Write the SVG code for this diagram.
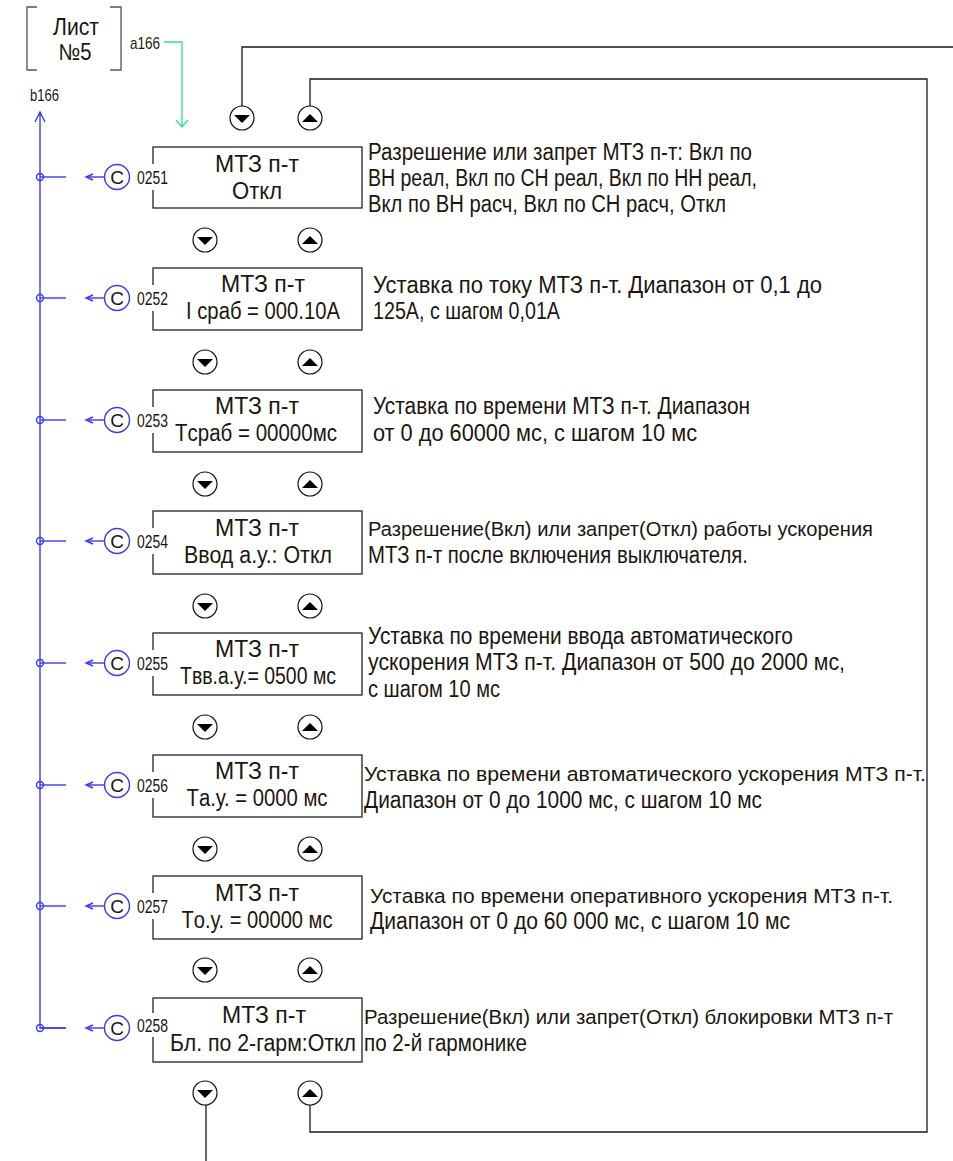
<svg xmlns="http://www.w3.org/2000/svg" xmlns:xlink="http://www.w3.org/1999/xlink" width="953" height="1161" viewBox="0 0 953 1161">
<style>
text{font-family:"Liberation Sans","DejaVu Sans",sans-serif;fill:#1c1610}
.box{fill:#fff;stroke:#222;stroke-width:1.3}
.bt{font-size:23.5px;text-anchor:middle}
.ds{font-size:23px}
.dl{font-size:20.5px}
.lbl{font-size:19px}
.wire{fill:none;stroke:#1a1a1a;stroke-width:1.3}
.gray{fill:none;stroke:#555;stroke-width:1.3}
.blue{fill:none;stroke:#3a3af0;stroke-width:1.4}
.green{fill:none;stroke:#2de57c;stroke-width:1.3}
.nav{fill:#fff;stroke:#111;stroke-width:1.2}
.cc{fill:#fff;stroke:#3a3af0;stroke-width:1.4}
</style>
<defs>
<g id="down"><circle class="nav" r="12"/><polygon points="-8,-3 8,-3 0,5" fill="#000"/></g>
<g id="up"><circle class="nav" r="12"/><polygon points="-8,4 8,4 0,-4" fill="#000"/></g>
<g id="cnode"><line class="blue" x1="0" y1="0" x2="26" y2="0"/><circle cx="0" cy="0" r="3.5" class="blue" fill="#fff"/><line class="blue" x1="47" y1="0" x2="64" y2="0"/><path class="blue" d="M53,-3 L46,0 L53,3"/><circle class="cc" cx="77" cy="0" r="12.5"/><text x="77" y="7" font-size="19" text-anchor="middle" fill="#000">C</text></g>
</defs>

<g id="sheet">
<path class="gray" d="M37,7 H27 V70 H37 M110,7 H121 V70 H110"/>
<text x="76" y="35" font-size="23" text-anchor="middle" textLength="46" lengthAdjust="spacingAndGlyphs">Лист</text>
<text x="75" y="60" font-size="23" text-anchor="middle" textLength="33" lengthAdjust="spacingAndGlyphs">№5</text>
<text x="130" y="49" font-size="17" textLength="30" lengthAdjust="spacingAndGlyphs">a166</text>
<text x="30" y="101" font-size="17" textLength="29" lengthAdjust="spacingAndGlyphs">b166</text>
</g>

<g id="connectors">
<path class="green" d="M164,42 H182 V127 M176,120 L182,127 L188,120"/>
<path class="blue" d="M40,112 V1028 H66 M35,122 L40,112 L45,122"/>
<path class="wire" d="M242,106 V47 H953"/>
<path class="wire" d="M310,106 V79 H927 V1132 H310 V1105"/>
<path class="wire" d="M206,1105 V1161"/>
</g>

<g id="nav">
<use xlink:href="#down" x="242" y="118"/><use xlink:href="#up" x="310" y="118"/>
<use xlink:href="#down" x="205" y="240"/><use xlink:href="#up" x="310" y="240"/>
<use xlink:href="#down" x="205" y="362"/><use xlink:href="#up" x="310" y="362"/>
<use xlink:href="#down" x="205" y="484"/><use xlink:href="#up" x="310" y="484"/>
<use xlink:href="#down" x="205" y="606"/><use xlink:href="#up" x="310" y="606"/>
<use xlink:href="#down" x="205" y="727"/><use xlink:href="#up" x="310" y="727"/>
<use xlink:href="#down" x="205" y="849"/><use xlink:href="#up" x="310" y="849"/>
<use xlink:href="#down" x="205" y="970"/><use xlink:href="#up" x="310" y="970"/>
<use xlink:href="#down" x="205" y="1093"/><use xlink:href="#up" x="310" y="1093"/>
</g>

<g id="node0251">
<use xlink:href="#cnode" x="40" y="177"/>
<rect class="box" x="153" y="147" width="209" height="61"/>
<rect x="150" y="164" width="8" height="26" fill="#fff"/>
<text class="lbl" x="137" y="184" textLength="31" lengthAdjust="spacingAndGlyphs">0251</text>
<text class="bt" x="257" y="172" textLength="84" lengthAdjust="spacingAndGlyphs">МТЗ п-т</text>
<text class="bt" x="257" y="199" textLength="50" lengthAdjust="spacingAndGlyphs">Откл</text>
<text class="ds" x="368" y="160" textLength="384" lengthAdjust="spacingAndGlyphs">Разрешение или запрет МТЗ п-т: Вкл по</text>
<text class="ds" x="368" y="186" textLength="389" lengthAdjust="spacingAndGlyphs">ВН реал, Вкл по СН реал, Вкл по НН реал,</text>
<text class="ds" x="368" y="212" textLength="358" lengthAdjust="spacingAndGlyphs">Вкл по ВН расч, Вкл по СН расч, Откл</text>
</g>

<g id="node0252">
<use xlink:href="#cnode" x="40" y="298"/>
<rect class="box" x="153" y="268" width="209" height="62"/>
<rect x="150" y="285" width="8" height="26" fill="#fff"/>
<text class="lbl" x="137" y="305" textLength="31" lengthAdjust="spacingAndGlyphs">0252</text>
<text class="bt" x="263" y="292" textLength="84" lengthAdjust="spacingAndGlyphs">МТЗ п-т</text>
<text class="bt" x="263" y="319" textLength="154" lengthAdjust="spacingAndGlyphs">I сраб = 000.10A</text>
<text class="ds" x="373" y="293" textLength="449" lengthAdjust="spacingAndGlyphs">Уставка по току МТЗ п-т. Диапазон от  0,1 до</text>
<text class="ds" x="373" y="319" textLength="187" lengthAdjust="spacingAndGlyphs">125А, с шагом 0,01А</text>
</g>

<g id="node0253">
<use xlink:href="#cnode" x="40" y="420"/>
<rect class="box" x="153" y="390" width="209" height="62"/>
<rect x="150" y="407" width="8" height="26" fill="#fff"/>
<text class="lbl" x="137" y="427" textLength="31" lengthAdjust="spacingAndGlyphs">0253</text>
<text class="bt" x="257" y="414" textLength="84" lengthAdjust="spacingAndGlyphs">МТЗ п-т</text>
<text class="bt" x="256" y="441" textLength="162" lengthAdjust="spacingAndGlyphs">Tсраб = 00000мс</text>
<text class="ds" x="373" y="414" textLength="377" lengthAdjust="spacingAndGlyphs">Уставка по времени МТЗ п-т. Диапазон</text>
<text class="ds" x="373" y="441" textLength="324" lengthAdjust="spacingAndGlyphs">от 0 до 60000 мс,  с шагом 10 мс</text>
</g>

<g id="node0254">
<use xlink:href="#cnode" x="40" y="541"/>
<rect class="box" x="153" y="511" width="209" height="63"/>
<rect x="150" y="528" width="8" height="26" fill="#fff"/>
<text class="lbl" x="137" y="548" textLength="31" lengthAdjust="spacingAndGlyphs">0254</text>
<text class="bt" x="257" y="536" textLength="84" lengthAdjust="spacingAndGlyphs">МТЗ п-т</text>
<text class="bt" x="258" y="563" textLength="148" lengthAdjust="spacingAndGlyphs">Ввод а.у.:  Откл</text>
<text class="dl" x="368" y="536" textLength="505" lengthAdjust="spacingAndGlyphs">Разрешение(Вкл) или запрет(Откл) работы ускорения</text>
<text class="ds" x="368" y="563" textLength="380" lengthAdjust="spacingAndGlyphs">МТЗ п-т после включения выключателя.</text>
</g>

<g id="node0255">
<use xlink:href="#cnode" x="40" y="663"/>
<rect class="box" x="153" y="633" width="209" height="62"/>
<rect x="150" y="650" width="8" height="26" fill="#fff"/>
<text class="lbl" x="137" y="670" textLength="31" lengthAdjust="spacingAndGlyphs">0255</text>
<text class="bt" x="257" y="657" textLength="84" lengthAdjust="spacingAndGlyphs">МТЗ п-т</text>
<text class="bt" x="258" y="684" textLength="156" lengthAdjust="spacingAndGlyphs">Tвв.а.у.= 0500 мс</text>
<text class="ds" x="368" y="644" textLength="425" lengthAdjust="spacingAndGlyphs">Уставка по времени ввода автоматического</text>
<text class="ds" x="368" y="670" textLength="477" lengthAdjust="spacingAndGlyphs">ускорения МТЗ п-т. Диапазон от 500 до 2000 мс,</text>
<text class="ds" x="368" y="697" textLength="132" lengthAdjust="spacingAndGlyphs">с шагом 10 мс</text>
</g>

<g id="node0256">
<use xlink:href="#cnode" x="40" y="785"/>
<rect class="box" x="153" y="755" width="209" height="62"/>
<rect x="150" y="772" width="8" height="26" fill="#fff"/>
<text class="lbl" x="137" y="792" textLength="31" lengthAdjust="spacingAndGlyphs">0256</text>
<text class="bt" x="257" y="779" textLength="84" lengthAdjust="spacingAndGlyphs">МТЗ п-т</text>
<text class="bt" x="257" y="806" textLength="141" lengthAdjust="spacingAndGlyphs">Tа.у. = 0000 мс</text>
<text class="dl" x="364" y="781" textLength="562" lengthAdjust="spacingAndGlyphs">Уставка по времени автоматического ускорения МТЗ п-т.</text>
<text class="ds" x="364" y="808" textLength="398" lengthAdjust="spacingAndGlyphs">Диапазон от 0 до 1000 мс, с шагом 10 мс</text>
</g>

<g id="node0257">
<use xlink:href="#cnode" x="40" y="906"/>
<rect class="box" x="153" y="876" width="209" height="63"/>
<rect x="150" y="893" width="8" height="26" fill="#fff"/>
<text class="lbl" x="137" y="913" textLength="31" lengthAdjust="spacingAndGlyphs">0257</text>
<text class="bt" x="257" y="901" textLength="84" lengthAdjust="spacingAndGlyphs">МТЗ п-т</text>
<text class="bt" x="257" y="928" textLength="151" lengthAdjust="spacingAndGlyphs">Tо.у. = 00000 мс</text>
<text class="dl" x="370" y="903" textLength="523" lengthAdjust="spacingAndGlyphs">Уставка по времени оперативного ускорения МТЗ п-т.</text>
<text class="ds" x="370" y="929" textLength="420" lengthAdjust="spacingAndGlyphs">Диапазон от 0 до 60 000 мс, с шагом 10 мс</text>
</g>

<g id="node0258">
<use xlink:href="#cnode" x="40" y="1028"/>
<rect class="box" x="153" y="998" width="209" height="64"/>
<rect x="150" y="1013" width="8" height="24" fill="#fff"/>
<text class="lbl" x="137" y="1032" textLength="31" lengthAdjust="spacingAndGlyphs">0258</text>
<text class="bt" x="264" y="1023" textLength="84" lengthAdjust="spacingAndGlyphs">МТЗ п-т</text>
<text class="bt" x="263" y="1051" textLength="186" lengthAdjust="spacingAndGlyphs">Бл. по 2-гарм:Откл</text>
<text class="dl" x="364" y="1024" textLength="529" lengthAdjust="spacingAndGlyphs">Разрешение(Вкл) или запрет(Откл) блокировки МТЗ п-т</text>
<text class="ds" x="364" y="1051" textLength="163" lengthAdjust="spacingAndGlyphs">по 2-й гармонике</text>
</g>
</svg>
